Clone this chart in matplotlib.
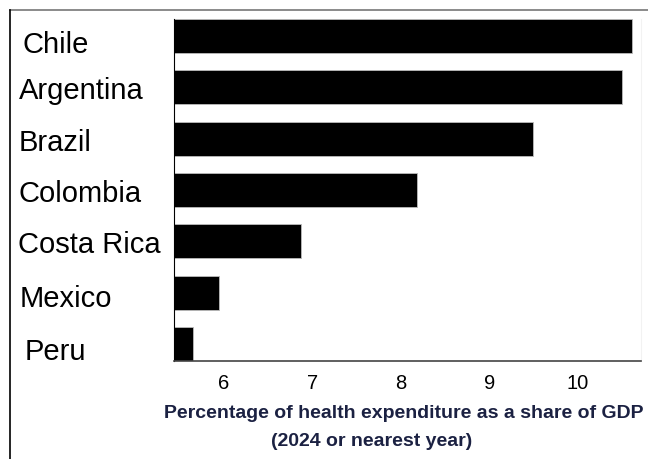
import matplotlib
matplotlib.use("Agg")
import matplotlib.pyplot as plt
from matplotlib.lines import Line2D
from matplotlib.transforms import ScaledTranslation

plt.rcParams['font.family'] = ['Liberation Sans', 'DejaVu Sans']

paises = ["Chile", "Argentina", "Brazil", "Colombia", "Costa Rica", "Mexico", "Peru"]
gasto = [10.61, 10.50, 9.49, 8.18, 6.87, 5.95, 5.65]
ticks = [6, 7, 8, 9, 10]

fig = plt.figure(figsize=(6.48, 4.60), dpi=100)
ax = fig.add_axes([174/648, 98/460, 467/648, 342/460])

pos = list(range(len(paises)))[::-1]
ax.barh(pos, gasto, height=0.66, left=0, color="black", edgecolor="#bbbbbb", linewidth=0.6)
ax.set_xlim(5.44, 10.71)
ax.set_ylim(-0.33, 6.33)

ax.set_yticks(pos)
ax.set_yticklabels(paises, fontsize=21, ha="left")
# pad en puntos: 156 px -> 112 pt
ax.tick_params(axis="y", length=0, pad=112)
# pequenos desplazamientos (px) como en el original
despl = {"Chile": (4, -5), "Peru": (6, -4), "Mexico": (1, -2)}
for lab in ax.get_yticklabels():
    d = despl.get(lab.get_text())
    if d:
        lab.set_transform(lab.get_transform() + ScaledTranslation(d[0]/100, d[1]/100, fig.dpi_scale_trans))

ax.set_xticks(ticks)
ax.set_xticklabels([str(t) for t in ticks], fontsize=14.5)
ax.tick_params(axis="x", length=0, pad=9)

ax.spines["top"].set_visible(False)
ax.spines["right"].set_color("#f2f2f2")
ax.spines["left"].set_color("black")
ax.spines["left"].set_linewidth(0.8)
ax.spines["bottom"].set_color("#444444")
ax.spines["bottom"].set_linewidth(1.2)

azul = "#1b2142"
fig.text(404/648, 1 - 414/460, "Percentage of health expenditure as a share of GDP",
         ha="center", va="center", fontsize=14, fontweight="bold", color=azul)
fig.text(372/648, 1 - 442/460, "(2024 or nearest year)",
         ha="center", va="center", fontsize=14, fontweight="bold", color=azul)

# marco
fig.add_artist(Line2D([10/648, 1], [1 - 10.5/460, 1 - 10.5/460], color="#777777", linewidth=1.2))
fig.add_artist(Line2D([10/648, 10/648], [0, 1 - 10.5/460], color="black", linewidth=1.2))

fig.savefig("out.png", dpi=100)
